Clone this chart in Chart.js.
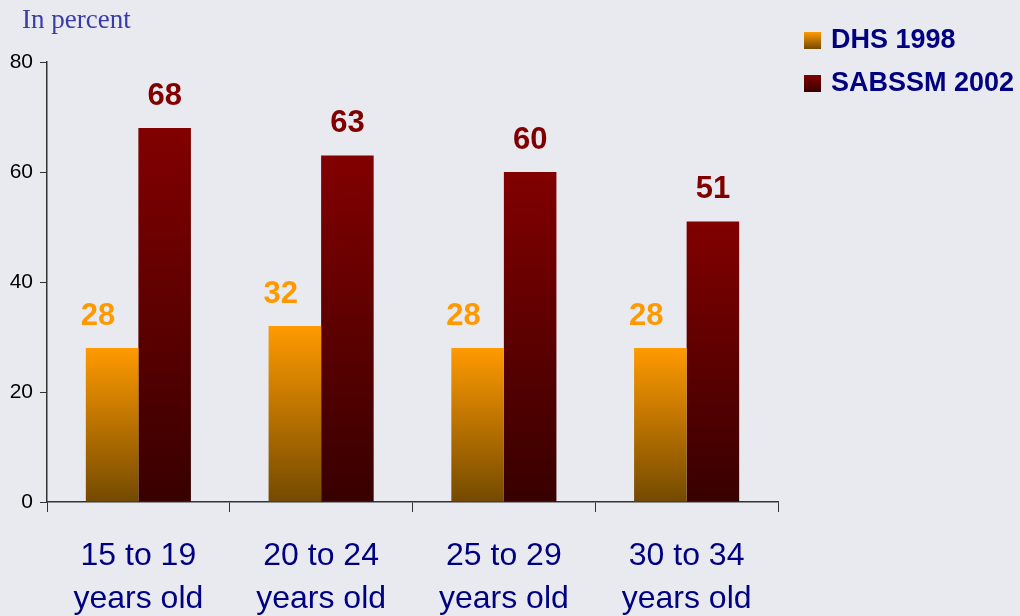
<!DOCTYPE html>
<html>
<head>
<meta charset="utf-8">
<script src="https://cdn.jsdelivr.net/npm/chart.js@4/dist/chart.umd.min.js"></script>
<style>
  html, body { margin: 0; padding: 0; background: #e9eaf0; }
  #wrap { position: relative; width: 1020px; height: 616px; }
  #unit { position: absolute; left: 22px; top: 4px; font: 27px "Liberation Serif", "Times New Roman", serif; color: #3a3aa8; line-height: 31px; }
</style>
</head>
<body>
<div id="wrap">
  <div id="unit">In percent</div>
  <canvas id="chart" width="1020" height="616"></canvas>
</div>
<script>
const categories = [['15 to 19', 'years old'], ['20 to 24', 'years old'], ['25 to 29', 'years old'], ['30 to 34', 'years old']];
const dhs1998 = [28, 32, 28, 28];
const sabssm2002 = [68, 63, 60, 51];
const yTicks = [0, 20, 40, 60, 80];

const seriesStyle = [
  { top: '#ff9a00', bottom: '#744a00', label: '#ff9900', dx: -14 },
  { top: '#820000', bottom: '#380000', label: '#800000', dx: 0 }
];

// vertical gradient per bar, from the bar's top down to the zero line
function barFill(i) {
  return function (ctx) {
    const chart = ctx.chart;
    if (!chart.chartArea || ctx.raw === undefined) return seriesStyle[i].top;
    const y = chart.scales.y;
    const g = chart.ctx.createLinearGradient(0, y.getPixelForValue(ctx.raw), 0, y.getPixelForValue(0));
    g.addColorStop(0, seriesStyle[i].top);
    g.addColorStop(1, seriesStyle[i].bottom);
    return g;
  };
}

const valueLabels = {
  id: 'valueLabels',
  afterDatasetsDraw(chart) {
    const c = chart.ctx;
    c.save();
    c.font = 'bold 31px "Liberation Sans", Arial, sans-serif';
    c.textAlign = 'center';
    c.textBaseline = 'middle';
    chart.data.datasets.forEach((ds, i) => {
      c.fillStyle = seriesStyle[i].label;
      chart.getDatasetMeta(i).data.forEach((bar, j) => {
        c.fillText(String(ds.data[j]), bar.x + seriesStyle[i].dx, bar.y - 32);
      });
    });
    c.restore();
  }
};

const sideLegend = {
  id: 'sideLegend',
  afterDraw(chart) {
    const c = chart.ctx;
    c.save();
    c.font = 'bold 27px "Liberation Sans", Arial, sans-serif';
    c.textBaseline = 'middle';
    chart.data.datasets.forEach((ds, i) => {
      const cy = 40 + i * 43;
      const g = c.createLinearGradient(0, cy - 8, 0, cy + 9);
      g.addColorStop(0, seriesStyle[i].top);
      g.addColorStop(1, seriesStyle[i].bottom);
      c.fillStyle = g;
      c.fillRect(804, cy - 8, 17, 17);
      c.fillStyle = '#000080';
      c.fillText(ds.label, 831, cy + 1);
    });
    c.restore();
  }
};

new Chart(document.getElementById('chart'), {
  type: 'bar',
  data: {
    labels: categories,
    datasets: [
      { label: 'DHS 1998', data: dhs1998, backgroundColor: barFill(0) },
      { label: 'SABSSM 2002', data: sabssm2002, backgroundColor: barFill(1) }
    ]
  },
  options: {
    responsive: false,
    animation: false,
    layout: { padding: { top: 62, right: 242, left: 0, bottom: 0 } },
    datasets: { bar: { categoryPercentage: 0.575, barPercentage: 1 } },
    plugins: { legend: { display: false }, tooltip: { enabled: false } },
    scales: {
      x: {
        grid: { offset: true, drawOnChartArea: false, tickLength: 10, color: '#333', lineWidth: 1 },
        border: { color: '#333', width: 1.5 },
        ticks: {
          color: '#000080',
          font: { family: '"Liberation Sans", Arial, sans-serif', size: 32, lineHeight: 1.34 },
          padding: 23,
          maxRotation: 0
        },
        afterFit(s) { s.height = 114; }
      },
      y: {
        min: 0,
        max: 80,
        afterBuildTicks(s) { s.ticks = yTicks.map(v => ({ value: v })); },
        grid: { drawOnChartArea: false, tickLength: 7, color: '#333' },
        border: { color: '#333', width: 1.5 },
        ticks: {
          color: '#000',
          font: { family: '"Liberation Sans", Arial, sans-serif', size: 21 },
          padding: 7
        },
        afterFit(s) { s.width = 47; }
      }
    }
  },
  plugins: [valueLabels, sideLegend]
});
</script>
</body>
</html>
